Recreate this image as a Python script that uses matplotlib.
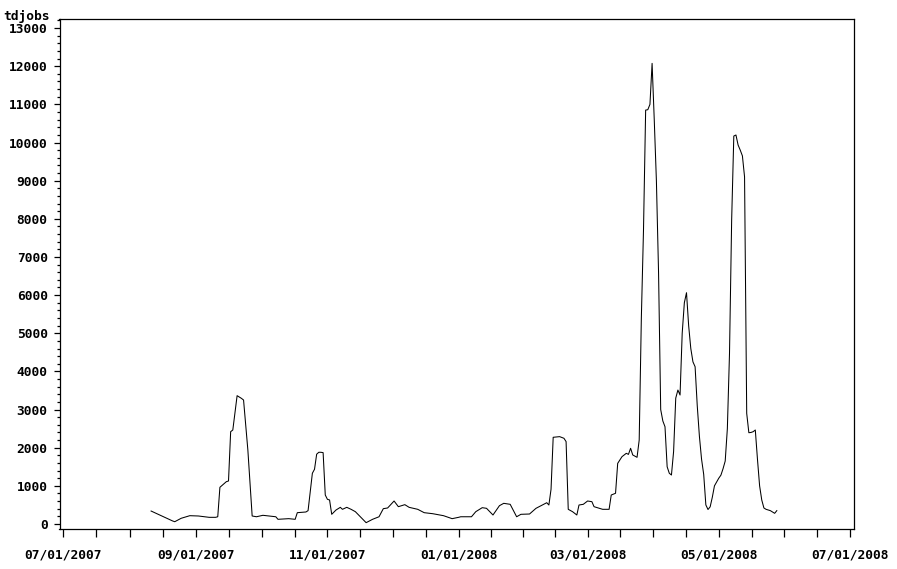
import matplotlib
matplotlib.use("Agg")
import matplotlib.pyplot as plt
import matplotlib.dates as mdates
from matplotlib.font_manager import FontProperties
from matplotlib.ticker import MultipleLocator, FixedLocator
import numpy as np
import pandas as pd

# daily job counts
dates = [
    "2007-08-11", "2007-08-15", "2007-08-21", "2007-08-22", "2007-08-25", "2007-08-29",
    "2007-09-02", "2007-09-07", "2007-09-10", "2007-09-11", "2007-09-12", "2007-09-15",
    "2007-09-16", "2007-09-17", "2007-09-18", "2007-09-20", "2007-09-22", "2007-09-23",
    "2007-09-25", "2007-09-27", "2007-09-29", "2007-10-02", "2007-10-08", "2007-10-09",
    "2007-10-14", "2007-10-17", "2007-10-18", "2007-10-22", "2007-10-23", "2007-10-25",
    "2007-10-26", "2007-10-27", "2007-10-28", "2007-10-29", "2007-10-30", "2007-10-31",
    "2007-11-01", "2007-11-02", "2007-11-03", "2007-11-05", "2007-11-07", "2007-11-08",
    "2007-11-10", "2007-11-12", "2007-11-14", "2007-11-17", "2007-11-19", "2007-11-22",
    "2007-11-25", "2007-11-27", "2007-11-29", "2007-12-01", "2007-12-02", "2007-12-04",
    "2007-12-07", "2007-12-09", "2007-12-13", "2007-12-16", "2007-12-20", "2007-12-25",
    "2007-12-29", "2008-01-01", "2008-01-02", "2008-01-07", "2008-01-09", "2008-01-12",
    "2008-01-14", "2008-01-17", "2008-01-20", "2008-01-22", "2008-01-25", "2008-01-28",
    "2008-01-30", "2008-02-03", "2008-02-06", "2008-02-09", "2008-02-11", "2008-02-12",
    "2008-02-13", "2008-02-14", "2008-02-17", "2008-02-19", "2008-02-20", "2008-02-21",
    "2008-02-23", "2008-02-25", "2008-02-26", "2008-02-28", "2008-03-01", "2008-03-03",
    "2008-03-04", "2008-03-08", "2008-03-11", "2008-03-12", "2008-03-14", "2008-03-15",
    "2008-03-17", "2008-03-19", "2008-03-20", "2008-03-21", "2008-03-22", "2008-03-24",
    "2008-03-25", "2008-03-26", "2008-03-27", "2008-03-28", "2008-03-29", "2008-03-30",
    "2008-03-31", "2008-04-01", "2008-04-02", "2008-04-03", "2008-04-04", "2008-04-05",
    "2008-04-06", "2008-04-07", "2008-04-08", "2008-04-09", "2008-04-10", "2008-04-11",
    "2008-04-12", "2008-04-13", "2008-04-14", "2008-04-15", "2008-04-16", "2008-04-17",
    "2008-04-18", "2008-04-19", "2008-04-20", "2008-04-21", "2008-04-22", "2008-04-23",
    "2008-04-24", "2008-04-25", "2008-04-26", "2008-04-27", "2008-04-28", "2008-04-29",
    "2008-04-30", "2008-05-01", "2008-05-02", "2008-05-03", "2008-05-04", "2008-05-05",
    "2008-05-06", "2008-05-07", "2008-05-08", "2008-05-09", "2008-05-10", "2008-05-11",
    "2008-05-12", "2008-05-13", "2008-05-14", "2008-05-15", "2008-05-16", "2008-05-17",
    "2008-05-18", "2008-05-19", "2008-05-20", "2008-05-21", "2008-05-22", "2008-05-23",
    "2008-05-25", "2008-05-27", "2008-05-28",
]
tdjobs = [
    340, 236, 80, 60, 150, 218,
    210, 175, 175, 190, 962, 1110,
    1127, 2420, 2464, 3364, 3294, 3250,
    1940, 210, 190, 228, 190, 123,
    140, 123, 297, 315, 350, 1330,
    1435, 1830, 1880, 1880, 1870, 760,
    647, 630, 254, 367, 437, 385,
    437, 385, 323, 150, 35, 123,
    190, 402, 420, 542, 603, 454,
    507, 437, 385, 297, 270, 218,
    140, 175, 190, 190, 323, 428,
    411, 236, 480, 542, 516, 190,
    254, 262, 411, 498, 558, 498,
    910, 2273, 2290, 2247, 2160, 385,
    323, 236, 498, 516, 603, 585,
    454, 385, 385, 760, 805, 1590,
    1765, 1853, 1825, 1985, 1810, 1748,
    2200, 5400, 7706, 10850, 10860, 11000,
    12075, 10600, 9000, 6600, 3000, 2700,
    2550, 1500, 1330, 1284, 1900, 3300,
    3512, 3381, 5000, 5800, 6063, 5200,
    4600, 4250, 4123, 3100, 2300, 1700,
    1300, 500, 380, 450, 700, 1000,
    1100, 1200, 1280, 1450, 1650, 2500,
    4474, 7969, 10170, 10197, 9934, 9800,
    9650, 9100, 2900, 2393, 2400, 2420,
    2464, 1700, 1000, 629, 420, 385,
    350, 280, 350,
]
xtick_dates = ["2007-07-01", "2007-09-01", "2007-11-01",
               "2008-01-01", "2008-03-01", "2008-05-01", "2008-07-01"]

x = pd.to_datetime(dates)
xt = pd.to_datetime(xtick_dates)

W, H = 897, 569
fig = plt.figure(figsize=(W / 100, H / 100), dpi=100)
ax = fig.add_axes([59.5 / W, (H - 529) / H, (854 - 59.5) / W, (529 - 19.3) / H])

ax.plot(x, tdjobs, color="black", lw=0.75)

font = dict(family="DejaVu Sans Mono", weight="bold", size=9.3)

ax.set_ylim(-131, 13230)
ax.yaxis.set_major_locator(MultipleLocator(1000))
ax.yaxis.set_minor_locator(MultipleLocator(200))

ax.set_xlim(xt[0] - pd.Timedelta(days=1.6), xt[-1] + pd.Timedelta(days=1.9))
ax.set_xticks(xt)
ax.set_xticklabels([d.strftime("%m/%d/%Y") for d in xt])

# three evenly spaced minor ticks between each pair of labelled dates
major_num = mdates.date2num(xt)
minor_num = []
for a, b in zip(major_num[:-1], major_num[1:]):
    minor_num.extend(np.linspace(a, b, 5)[1:-1])
ax.xaxis.set_minor_locator(FixedLocator(minor_num))

fp = FontProperties(**font)
for lab in ax.get_xticklabels() + ax.get_yticklabels():
    lab.set_fontproperties(fp)

ax.tick_params(axis="x", which="both", direction="out", length=6, width=0.9, pad=8, colors="black")
ax.tick_params(axis="y", which="major", direction="out", length=4.5, width=0.9, pad=4)
ax.tick_params(axis="y", which="minor", direction="out", length=2.5, width=0.9)
for s in ax.spines.values():
    s.set_linewidth(0.9)

fig.text(3 / W, (H - 10) / H, "tdjobs", ha="left", va="top", **font)

fig.savefig("out.png", dpi=100)
